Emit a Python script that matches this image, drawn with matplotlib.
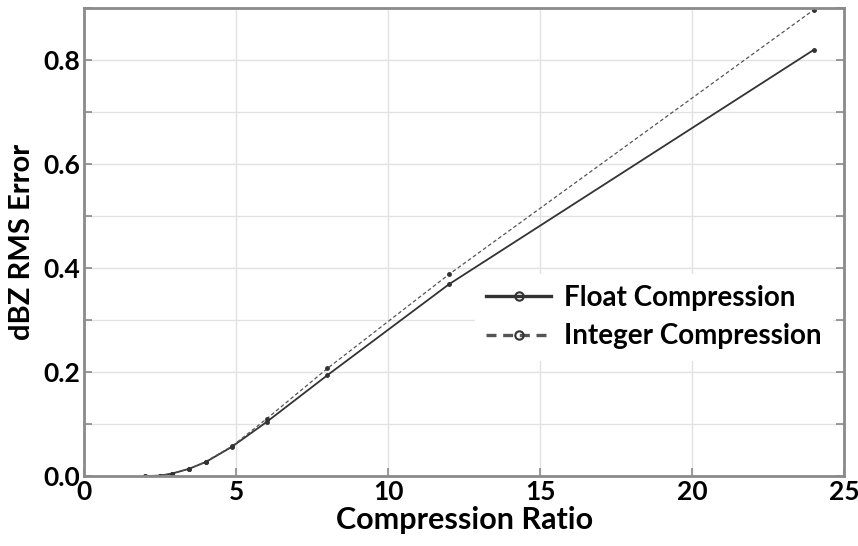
import matplotlib
matplotlib.use("Agg")
import matplotlib.pyplot as plt
from matplotlib.ticker import MultipleLocator, FormatStrFormatter

ratio = [2.0, 2.5, 2.9, 3.45, 4.0, 4.85, 6.0, 8.0, 12.0, 24.0]
float_err = [0.0, 0.001, 0.005, 0.014, 0.027, 0.056, 0.104, 0.194, 0.369, 0.820]
int_err = [0.0, 0.001, 0.005, 0.014, 0.028, 0.057, 0.110, 0.207, 0.388, 0.897]

plt.rcParams['font.family'] = ['Lato', 'DejaVu Sans']
plt.rcParams['font.weight'] = 'bold'

fig = plt.figure(figsize=(8.58, 5.46), dpi=100)
ax = fig.add_axes([0.098, 0.128, 0.886, 0.857])

ax.plot(ratio, float_err, '-', color='#333333', lw=1.3, marker='o', ms=2.5,
        mfc='#333333', mec='#333333', label='Float Compression')
ax.plot(ratio, int_err, '--', color='#555555', lw=0.9, dashes=(3, 2), marker='o', ms=2.5,
        mfc='#333333', mec='#333333', label='Integer Compression')

ax.set_xlim(0, 25)
ax.set_ylim(0, 0.9)
ax.xaxis.set_major_locator(MultipleLocator(5))
ax.yaxis.set_major_locator(MultipleLocator(0.2))
ax.yaxis.set_minor_locator(MultipleLocator(0.1))
ax.yaxis.set_major_formatter(FormatStrFormatter('%.1f'))

ax.grid(True, which='major', color='#e2e2e2', lw=1.0)
ax.grid(True, which='minor', axis='y', color='#e2e2e2', lw=1.0)
ax.set_axisbelow(True)

for s in ax.spines.values():
    s.set_color('#8a8a8a')
    s.set_linewidth(2.0)

ax.tick_params(axis='both', which='both', direction='in', color='#8a8a8a',
               right=True, top=False, labelsize=19, pad=3)
ax.tick_params(axis='both', which='major', length=6, width=1.2)
ax.tick_params(axis='both', which='minor', length=6, width=1.2)
for lab in ax.get_xticklabels() + ax.get_yticklabels():
    lab.set_fontweight('bold')

ax.set_xlabel('Compression Ratio', fontsize=22, fontweight='bold', labelpad=1)
ax.set_ylabel('dBZ RMS Error', fontsize=21, fontweight='bold', labelpad=6)

leg = ax.legend(loc='upper left', bbox_to_anchor=(0.496, 0.462), frameon=True,
                handlelength=2.35, handletextpad=0.47, labelspacing=0.45,
                borderpad=0.4, prop={'weight': 'bold', 'size': 20})
leg.get_frame().set_edgecolor('none')
leg.get_frame().set_facecolor('white')
leg.get_frame().set_alpha(1.0)
for line in leg.get_lines():
    line.set_linewidth(2.4)
    line.set_markersize(6)
    line.set_markerfacecolor('none')
    line.set_markeredgewidth(1.5)

fig.savefig('out.png', dpi=100)
